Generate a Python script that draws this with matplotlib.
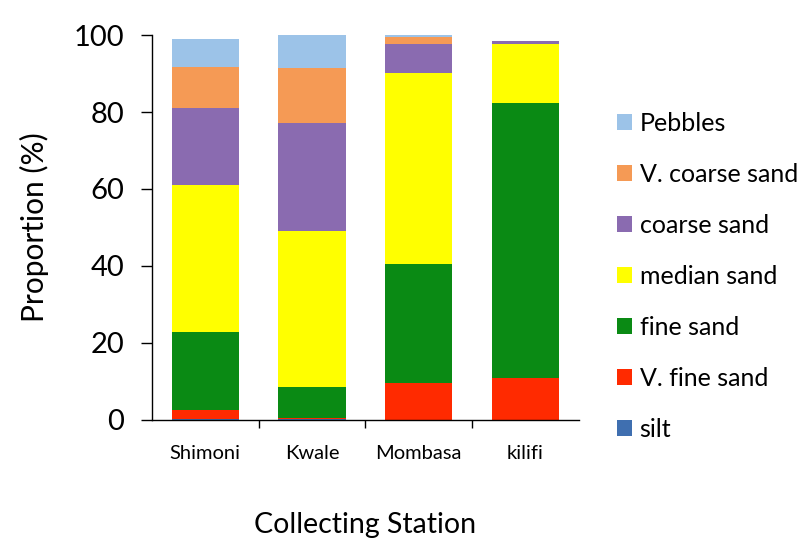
import numpy as np
import matplotlib.pyplot as plt
from matplotlib.patches import Patch

plt.rcParams['font.family'] = ['Lato', 'DejaVu Sans']

# ---- data ----
stations = ["Shimoni", "Kwale", "Mombasa", "kilifi"]
classes = ["silt", "V. fine sand", "fine sand", "median sand",
           "coarse sand", "V. coarse sand", "Pebbles"]
silt = [0.3, 0.3, 0.0, 0.0]
v_fine_sand = [2.3, 0.3, 9.7, 10.8]
fine_sand = [20.3, 8.0, 30.7, 71.6]
median_sand = [38.1, 40.4, 49.8, 15.4]
coarse_sand = [20.1, 28.2, 7.5, 0.7]
v_coarse_sand = [10.7, 14.2, 1.7, 0.0]
pebbles = [7.2, 8.7, 0.6, 0.0]

series = [silt, v_fine_sand, fine_sand, median_sand,
          coarse_sand, v_coarse_sand, pebbles]
colors = ["#3f6fb0", "#ff2a00", "#0a8a14", "#ffff00",
          "#8a6bb0", "#f59a55", "#9cc3e8"]

fig = plt.figure(figsize=(8.04, 5.39), dpi=100)
ax = fig.add_axes([0.189, 0.221, 0.531, 0.714])

x = np.arange(len(stations))
bottom = np.zeros(len(stations))
for vals, c in zip(series, colors):
    ax.bar(x, vals, width=0.63, bottom=bottom, color=c, edgecolor="none")
    bottom += np.array(vals)

ax.set_xlim(-0.5, len(stations) - 0.5)
ax.set_ylim(0, 100)
ax.set_yticks([0, 20, 40, 60, 80, 100])
ax.tick_params(axis="y", labelsize=21, length=8, width=1, direction="out", pad=12)

# category labels without ticks, ticks between categories
ax.set_xticks(x)
ax.set_xticklabels(stations, fontsize=14.5)
ax.tick_params(axis="x", length=0, pad=18)
ax.set_xticks(np.arange(0.5, len(stations) - 0.5, 1), minor=True)
ax.tick_params(axis="x", which="minor", length=6, width=1, direction="out")

for s in ["top", "right"]:
    ax.spines[s].set_visible(False)
ax.spines["left"].set_linewidth(1)
ax.spines["bottom"].set_linewidth(1)

ax.set_ylabel("Proportion (%)", fontsize=21.5, labelpad=18)
ax.set_xlabel("Collecting Station", fontsize=20.5, labelpad=36)

handles = [Patch(facecolor=c, edgecolor="none") for c in colors]
leg = fig.legend(handles[::-1], classes[::-1], loc="upper left",
                 bbox_to_anchor=(0.752, 0.815), frameon=False, fontsize=18,
                 handlelength=0.6, handleheight=0.6, handletextpad=0.3,
                 labelspacing=1.12, borderpad=0)

fig.savefig("out.png", dpi=100)
